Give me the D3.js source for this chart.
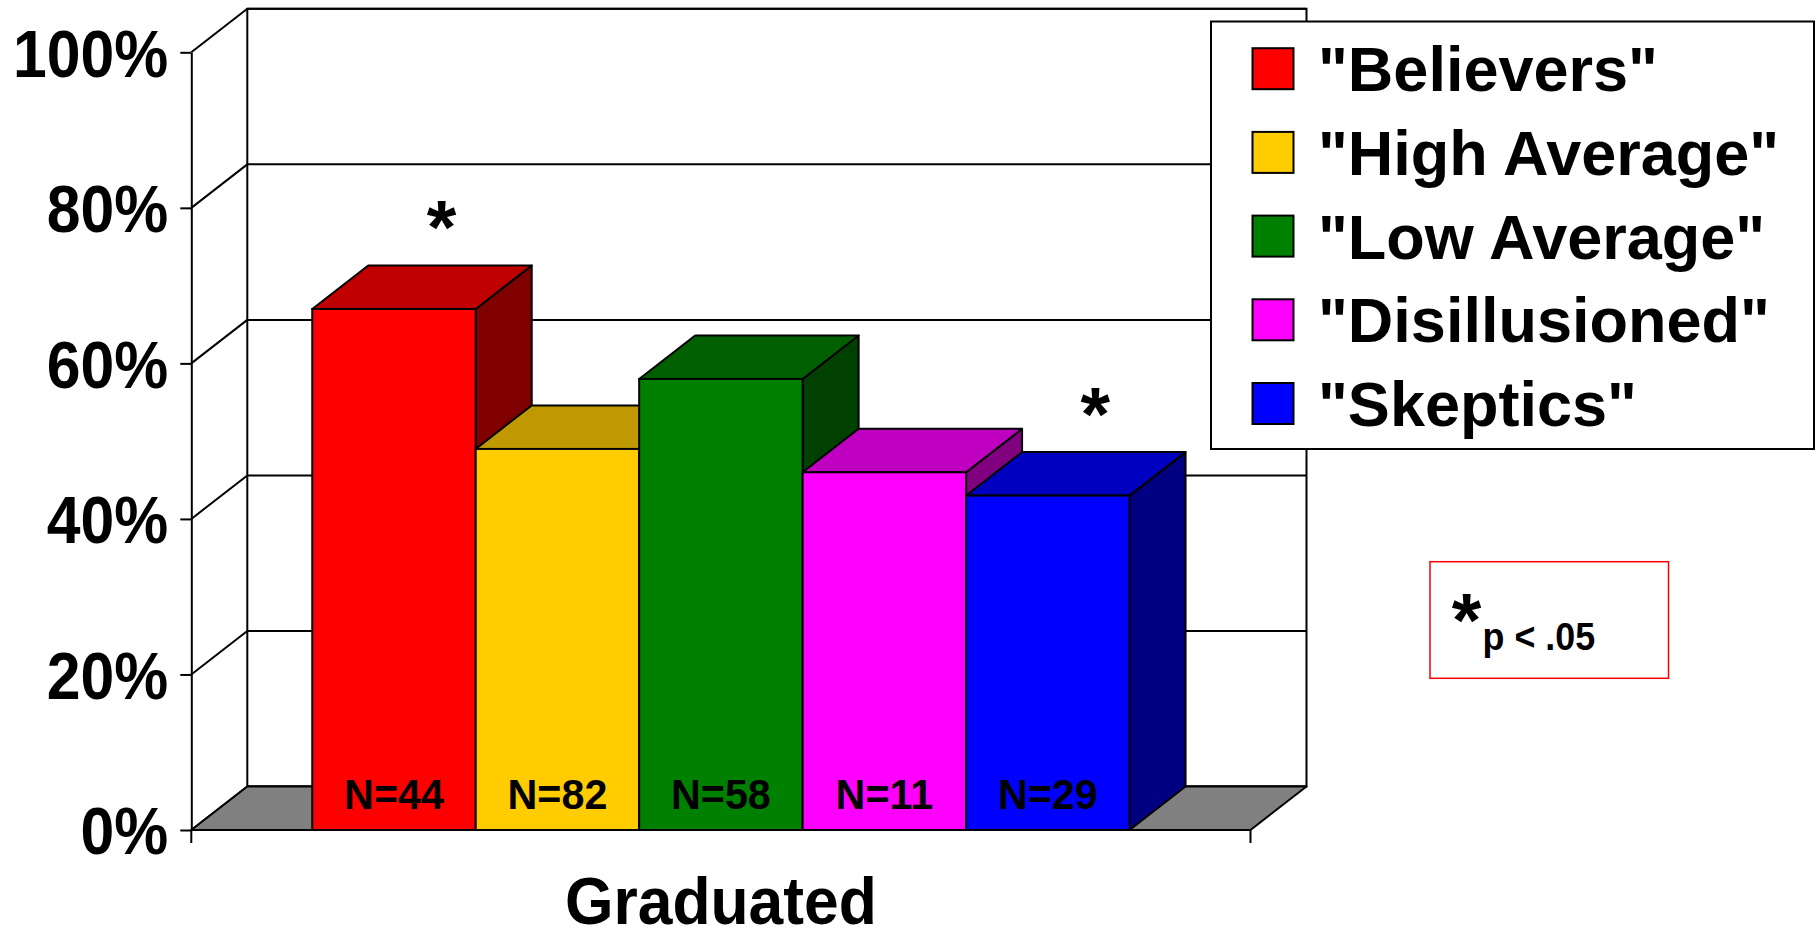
<!DOCTYPE html>
<html>
<head>
<meta charset="utf-8">
<script src="https://cdn.jsdelivr.net/npm/d3@7/dist/d3.min.js"></script>
<style>
  html, body { margin: 0; padding: 0; background: #ffffff; }
  svg { display: block; }
  text { font-family: "Liberation Sans", Arial, sans-serif; font-weight: bold; fill: #000; }
</style>
</head>
<body>
<svg id="chart" width="1816" height="930"></svg>
<script>
// ---- data ----
const categories = ["Graduated"];
const seriesNames = ['"Believers"', '"High Average"', '"Low Average"', '"Disillusioned"', '"Skeptics"'];
const seriesValues = [67, 49, 58, 46, 43];          // % graduated
const sampleSizes = [44, 82, 58, 11, 29];           // N per group
const significant = [true, false, false, false, true]; // * p < .05
const yTicks = [0, 20, 40, 60, 80, 100];
const frontColors = ["#FF0000", "#FFCC00", "#008000", "#FF00FF", "#0000FF"];
const topColors   = ["#C00000", "#C09900", "#006000", "#C000C0", "#0000C0"];
const sideColors  = ["#800000", "#806600", "#004000", "#800080", "#000080"];

// ---- layout ----
const svg = d3.select("#chart");
const DX = 56, DY = 43.5;               // oblique depth offset
const y = d3.scaleLinear().domain([0, 100]).range([830, 52.3]);
const x0 = d3.scaleBand().domain(categories).range([191.3, 1250.5]).paddingInner(0).paddingOuter(0.148);
const x1 = d3.scaleBand().domain(seriesNames).range([0, x0.bandwidth()]);
const xL = x0.range()[0], xR = x0.range()[1];
const y0 = y(0);
const stroke = "#000", sw = 2;

// helper: place condensed text
function place(sel, fx, fy, k) {
  return sel.attr("x", 0).attr("y", 0)
    .attr("transform", (d, i) => `translate(${fx(d, i)},${fy(d, i)}) scale(${k},1)`);
}

// back wall
svg.append("rect")
  .attr("x", xL + DX).attr("y", y(100) - DY)
  .attr("width", xR - xL).attr("height", y(0) - y(100))
  .attr("fill", "#fff").attr("stroke", stroke).attr("stroke-width", sw);

// back-wall gridlines
svg.append("g").selectAll("line").data(yTicks).join("line")
  .attr("x1", xL + DX).attr("x2", xR + DX)
  .attr("y1", d => y(d) - DY).attr("y2", d => y(d) - DY)
  .attr("stroke", stroke).attr("stroke-width", sw);

// side-wall diagonals
svg.append("g").selectAll("line").data(yTicks).join("line")
  .attr("x1", xL).attr("x2", xL + DX)
  .attr("y1", d => y(d)).attr("y2", d => y(d) - DY)
  .attr("stroke", stroke).attr("stroke-width", sw);

// floor
svg.append("polygon")
  .attr("points", [[xL, y0], [xR, y0], [xR + DX, y0 - DY], [xL + DX, y0 - DY]].map(p => p.join(",")).join(" "))
  .attr("fill", "#808080").attr("stroke", stroke).attr("stroke-width", sw).attr("stroke-linejoin", "round");

// y axis
const tickK = 0.92;
const yAxis = d3.axisLeft(y).tickValues(yTicks).tickFormat(d => d + "%").tickSize(11).tickSizeOuter(0).tickPadding(12);
const gy = svg.append("g").attr("transform", `translate(${xL},0)`).call(yAxis);
gy.select(".domain").attr("stroke", stroke).attr("stroke-width", sw);
gy.selectAll(".tick line").attr("stroke", stroke).attr("stroke-width", sw);
gy.selectAll(".tick text")
  .attr("font-size", 66).attr("font-family", '"Liberation Sans", Arial, sans-serif')
  .attr("font-weight", "bold").attr("fill", "#000").attr("dy", "0.36em")
  .attr("x", -23 / tickK).attr("transform", `scale(${tickK},1)`);

// x-axis line and end ticks
svg.append("line").attr("x1", xL).attr("x2", xR).attr("y1", y0).attr("y2", y0)
  .attr("stroke", stroke).attr("stroke-width", sw);
svg.append("g").selectAll("line").data(x0.range()).join("line")
  .attr("x1", d => d).attr("x2", d => d).attr("y1", y0).attr("y2", y0 + 13)
  .attr("stroke", stroke).attr("stroke-width", sw);

// category label
place(svg.append("g").selectAll("text").data(categories).join("text"),
      d => x0(d) + x0.bandwidth() / 2, () => 924, 0.945)
  .attr("text-anchor", "middle").attr("font-size", 66).text(d => d);

// bars
const bars = seriesNames.map((name, i) => ({ name, value: seriesValues[i], n: sampleSizes[i], sig: significant[i], i }));
const gb = svg.append("g");
const cat = categories[0];
bars.forEach(b => {
  const xa = x0(cat) + x1(b.name), xb = xa + x1.bandwidth();
  const yt = y(b.value);
  const g = gb.append("g");
  g.append("polygon")
    .attr("points", [[xb, yt], [xb + DX, yt - DY], [xb + DX, y0 - DY], [xb, y0]].map(p => p.join(",")).join(" "))
    .attr("fill", sideColors[b.i]).attr("stroke", stroke).attr("stroke-width", sw).attr("stroke-linejoin", "round");
  g.append("polygon")
    .attr("points", [[xa, yt], [xb, yt], [xb + DX, yt - DY], [xa + DX, yt - DY]].map(p => p.join(",")).join(" "))
    .attr("fill", topColors[b.i]).attr("stroke", stroke).attr("stroke-width", sw).attr("stroke-linejoin", "round");
  g.append("rect")
    .attr("x", xa).attr("y", yt).attr("width", xb - xa).attr("height", y0 - yt)
    .attr("fill", frontColors[b.i]).attr("stroke", stroke).attr("stroke-width", sw);
});

// N labels
place(svg.append("g").selectAll("text").data(bars).join("text"),
      d => x0(cat) + x1(d.name) + x1.bandwidth() / 2, () => y0 - 21, 0.96)
  .attr("text-anchor", "middle").attr("font-size", 43)
  .text(d => "N=" + d.n);

// significance stars
svg.append("g").selectAll("text").data(bars.filter(d => d.sig)).join("text")
  .attr("x", d => x0(cat) + x1(d.name) + x1.bandwidth() / 2 + DX * 0.85)
  .attr("y", d => y(d.value) - DY - 12)
  .attr("text-anchor", "middle").attr("font-size", 76)
  .text("*");

// legend
const lg = svg.append("g");
lg.append("rect").attr("x", 1211).attr("y", 21.5).attr("width", 603).attr("height", 427.5)
  .attr("fill", "#fff").attr("stroke", stroke).attr("stroke-width", sw);
const rows = lg.selectAll("g.row").data(bars).join("g").attr("class", "row")
  .attr("transform", d => `translate(0,${68.7 + d.i * 83.7})`);
rows.append("rect").attr("x", 1252.5).attr("y", -20.5).attr("width", 41).attr("height", 41)
  .attr("fill", d => frontColors[d.i]).attr("stroke", stroke).attr("stroke-width", 2);
rows.append("text").attr("x", 1318).attr("y", 22.5).attr("font-size", 63).text(d => d.name);

// significance note box
const nb = svg.append("g");
nb.append("rect").attr("x", 1430).attr("y", 561.7).attr("width", 238.5).attr("height", 116.6)
  .attr("fill", "#fff").attr("stroke", "#FF0000").attr("stroke-width", 1.5);
nb.append("text").attr("x", 1466.5).attr("y", 646).attr("text-anchor", "middle").attr("font-size", 76).text("*");
nb.append("text").attr("x", 0).attr("y", 0)
  .attr("transform", "translate(1482.5,650) scale(0.92,1)")
  .attr("font-size", 39).text("p < .05");
</script>
</body>
</html>
